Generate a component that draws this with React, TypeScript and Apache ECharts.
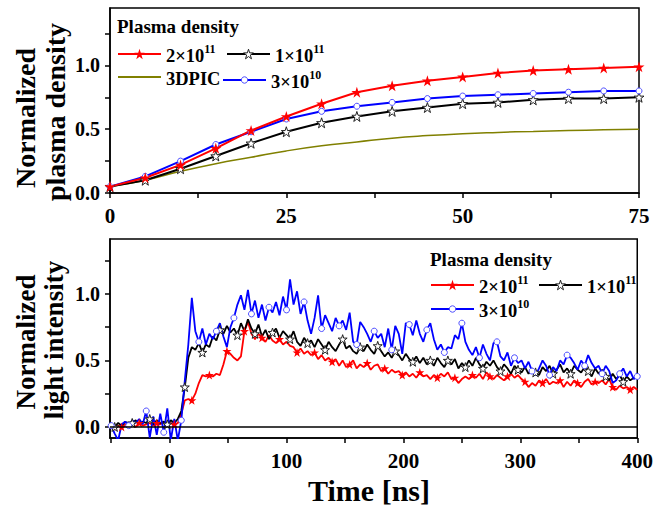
import React, { useEffect, useRef } from "react";
import * as echarts from "echarts";

// ---------- Top panel: normalized plasma density vs time ----------
const densityTime = [0, 5, 10, 15, 20, 25, 30, 35, 40, 45, 50, 55, 60, 65, 70, 75];
const density2e11 = [0.05, 0.12, 0.22, 0.35, 0.49, 0.6, 0.7, 0.79, 0.84, 0.88, 0.91, 0.94, 0.96, 0.97, 0.98, 0.99];
const density1e11 = [0.05, 0.1, 0.19, 0.29, 0.39, 0.48, 0.55, 0.6, 0.64, 0.67, 0.7, 0.71, 0.73, 0.74, 0.74, 0.75];
const density3e10 = [0.05, 0.13, 0.25, 0.38, 0.48, 0.58, 0.64, 0.68, 0.71, 0.74, 0.76, 0.77, 0.78, 0.79, 0.8, 0.8];
const density3DPIC = [0.05, 0.1, 0.17, 0.23, 0.28, 0.33, 0.37, 0.4, 0.43, 0.45, 0.465, 0.475, 0.483, 0.49, 0.495, 0.5];

// ---------- Bottom panel: normalized light intensity vs time ----------
const lightStart = -50;
const lightStep = 3;
const light2e11 = [
  0.0, -0.02, 0.01, 0.0, 0.02, 0.01, 0.02, 0.0, 0.03, 0.01,
  0.02, 0.03, 0.01, 0.03, 0.02, 0.04, 0.01, 0.03, 0.02, 0.03,
  0.1, 0.2, 0.21, 0.2, 0.25, 0.33, 0.39, 0.38, 0.39, 0.38,
  0.4, 0.39, 0.47, 0.57, 0.55, 0.52, 0.5, 0.53, 0.72, 0.79,
  0.7, 0.66, 0.7, 0.67, 0.64, 0.69, 0.65, 0.63, 0.66, 0.62,
  0.64, 0.61, 0.6, 0.56, 0.59, 0.55, 0.57, 0.54, 0.56, 0.51,
  0.54, 0.5, 0.52, 0.49, 0.51, 0.46, 0.5, 0.45, 0.47, 0.5,
  0.44, 0.47, 0.45, 0.48, 0.43, 0.46, 0.47, 0.42, 0.44, 0.4,
  0.43, 0.41, 0.42, 0.39, 0.41, 0.38, 0.4, 0.37, 0.41, 0.38,
  0.39, 0.36, 0.39, 0.37, 0.4, 0.38, 0.41, 0.36, 0.37, 0.33,
  0.36, 0.38, 0.36, 0.39, 0.37, 0.4, 0.36, 0.41, 0.38, 0.36,
  0.39, 0.37, 0.35, 0.38, 0.4, 0.37, 0.39, 0.36, 0.34, 0.3,
  0.33, 0.31, 0.35, 0.33, 0.36, 0.32, 0.34, 0.33, 0.35, 0.3,
  0.34, 0.31, 0.35, 0.33, 0.3, 0.34, 0.36, 0.32, 0.34, 0.33,
  0.35, 0.32, 0.36, 0.3, 0.28, 0.31, 0.29, 0.3, 0.28, 0.3,
  0.28,
];
const light1e11 = [
  0.02, 0.0, 0.03, 0.01, 0.04, 0.02, 0.03, 0.05, 0.02, 0.04,
  0.03, 0.06, 0.02, 0.05, 0.03, 0.04, 0.02, 0.05, 0.03, 0.06,
  0.12, 0.3, 0.52, 0.6, 0.58, 0.63, 0.56, 0.62, 0.6, 0.68,
  0.65, 0.73, 0.7, 0.76, 0.71, 0.74, 0.69, 0.78, 0.72, 0.81,
  0.74, 0.7, 0.77, 0.68, 0.73, 0.66, 0.71, 0.74, 0.67, 0.72,
  0.69, 0.66, 0.72, 0.64, 0.61, 0.67, 0.63, 0.65, 0.6, 0.66,
  0.62, 0.58, 0.64, 0.6, 0.57, 0.62, 0.66, 0.59, 0.61, 0.57,
  0.55, 0.6, 0.57, 0.62, 0.58, 0.55, 0.61, 0.57, 0.53, 0.56,
  0.52, 0.57, 0.54, 0.5, 0.55, 0.51, 0.49, 0.53, 0.48, 0.52,
  0.47, 0.5, 0.46, 0.52, 0.48, 0.45, 0.5, 0.47, 0.51, 0.44,
  0.48, 0.45, 0.5, 0.46, 0.52, 0.47, 0.44, 0.49, 0.46, 0.5,
  0.45, 0.42, 0.47, 0.44, 0.4, 0.46, 0.43, 0.41, 0.45, 0.4,
  0.44, 0.41, 0.39, 0.45, 0.42, 0.46, 0.4, 0.43, 0.47, 0.41,
  0.44, 0.4, 0.46, 0.43, 0.41, 0.45, 0.42, 0.38, 0.44, 0.4,
  0.43, 0.38, 0.35, 0.4, 0.36, 0.39, 0.34, 0.38, 0.35, 0.37,
  0.37,
];
const light3e10 = [
  0.01, -0.05, -0.1, 0.02, 0.04, 0.01, 0.05, 0.03, 0.06, 0.02,
  0.12, -0.08, 0.08, -0.06, 0.1, -0.04, 0.14, -0.1, 0.06, -0.1,
  0.05, 0.35, 0.62, 0.97, 0.72, 0.64, 0.74, 0.62, 0.7, 0.66,
  0.72, 0.78, 0.68, 0.6, 0.75, 0.82, 0.92, 0.99, 0.88, 1.03,
  0.85, 0.95, 0.82, 0.92, 0.8, 0.9, 0.86, 0.94, 0.84, 0.98,
  0.88, 1.11, 0.92, 1.02, 0.85, 0.94, 0.8, 0.7, 0.82, 0.99,
  0.74, 0.84, 0.78, 0.72, 0.82, 0.76, 0.8, 0.73, 0.86, 0.64,
  0.62, 0.79, 0.75, 0.7, 0.64, 0.72, 0.67, 0.7, 0.6, 0.74,
  0.58, 0.76, 0.7, 0.55, 0.78, 0.77, 0.69, 0.8, 0.7, 0.64,
  0.73, 0.78, 0.66, 0.58, 0.62, 0.56, 0.6, 0.59, 0.69, 0.66,
  0.78, 0.64, 0.58, 0.54, 0.6, 0.52, 0.62, 0.55, 0.5, 0.63,
  0.64, 0.53, 0.5, 0.56, 0.46, 0.52, 0.48, 0.5, 0.44, 0.49,
  0.42, 0.39, 0.44, 0.5, 0.46, 0.39, 0.45, 0.42, 0.5, 0.47,
  0.54, 0.52, 0.48, 0.43, 0.5, 0.46, 0.54, 0.48, 0.44, 0.46,
  0.4, 0.46, 0.42, 0.33, 0.35, 0.4, 0.44, 0.38, 0.42, 0.36,
  0.38,
];
const lightTime = light2e11.map((_, i) => lightStart + i * lightStep);

const topXTicks = [0, 12.5, 25, 37.5, 50, 62.5, 75];
const topXLabels = [0, 25, 50, 75];
const topYTicks = [0, 0.25, 0.5, 0.75, 1.0, 1.25];
const topYLabels = [0, 0.5, 1.0];
const botXTicks = [-50, 0, 50, 100, 150, 200, 250, 300, 350, 400];
const botXLabels = [0, 100, 200, 300, 400];
const botYTicks = [0, 0.25, 0.5, 0.75, 1.0, 1.25];
const botYLabels = [0, 0.5, 1.0];

const FONT = '"Liberation Serif", "Times New Roman", serif';
const STAR =
  "path://M50,0 L61.8,35.1 L98.9,35.1 L69,56.7 L80.3,91.9 L50,70.2 L19.7,91.9 L31,56.7 L1.1,35.1 L38.2,35.1 Z";
const RED = "#ff0000";
const BLACK = "#000000";
const BLUE = "#0000ff";
const OLIVE = "#808000";

function pairs(xs: number[], ys: number[]) {
  return ys.map((y, i) => [xs[i], y]);
}
function marked(ys: number[], offset: number, every: number) {
  return ys.map((y, i) =>
    i % every === offset ? [lightTime[i], y] : { value: [lightTime[i], y], symbol: "none" }
  );
}

const legendText = {
  fontFamily: FONT,
  color: "#000",
  rich: {
    b: { fontFamily: FONT, fontWeight: "bold", fontSize: 18.5, color: "#000", lineHeight: 22, verticalAlign: "bottom" },
    s: { fontFamily: FONT, fontWeight: "bold", fontSize: 12, color: "#000", lineHeight: 22, verticalAlign: "top" },
  },
};
function legendFormatter(name: string) {
  const n = name.split(":").pop() as string;
  const parts = n.split("^");
  return parts.length > 1 ? `{b|${parts[0]}}{s|${parts[1]}}` : `{b|${n}}`;
}
function legendAt(name: string, left: number, top: number, itemHeight: number, itemStyle: any) {
  return {
    data: [name],
    left,
    top,
    padding: 0,
    itemWidth: 43,
    itemHeight,
    selectedMode: false,
    formatter: legendFormatter,
    textStyle: legendText,
    itemStyle,
  };
}
const redMark = { color: RED, borderWidth: 0 };
const blackMark = { color: "#fff", borderColor: "#222", borderWidth: 1 };
const blueMark = { color: "#fff", borderColor: "#4d4dff", borderWidth: 1 };
const noMark = { opacity: 0 };

function valueAxis(gridIndex: number, min: number, max: number, ticks: number[], labels: number[], isX: boolean, fs: number, fmt: (v: number) => string) {
  return {
    type: "value",
    gridIndex,
    min,
    max,
    splitLine: { show: false },
    axisLine: { show: true, onZero: false, lineStyle: { color: "#000", width: 1.5 } },
    axisTick: { show: true, inside: false, length: 5, customValues: ticks, lineStyle: { color: "#000", width: 1.5 } },
    axisLabel: {
      customValues: labels,
      formatter: fmt,
      fontFamily: FONT,
      fontWeight: "bold",
      fontSize: fs,
      color: "#000",
      margin: isX ? 12 : 10,
    },
  };
}

function vText(text: string, x: number, y: number, size: number) {
  return {
    type: "text",
    x,
    y,
    rotation: Math.PI / 2,
    style: { text, font: `bold ${size}px ${FONT}`, fill: "#000", align: "center", verticalAlign: "middle" },
  };
}

export default function App() {
  const ref = useRef<HTMLDivElement>(null);
  useEffect(() => {
    if (!ref.current) return;
    const chart = echarts.init(ref.current, undefined, { renderer: "svg" });
    const option: any = {
      animation: false,
      backgroundColor: "#fff",
      grid: [
        { left: 110, top: 8, width: 529, height: 185, show: true, borderColor: "#000", borderWidth: 1.5, backgroundColor: "transparent" },
        { left: 110, top: 239, width: 529, height: 199, show: true, borderColor: "#000", borderWidth: 1.5, backgroundColor: "transparent" },
      ],
      xAxis: [
        valueAxis(0, 0, 75, topXTicks, topXLabels, true, 21, (v) => String(v)),
        valueAxis(1, -51, 400, botXTicks, botXLabels, true, 21, (v) => String(v)),
      ],
      yAxis: [
        valueAxis(0, 0, 1.45, topYTicks, topYLabels, false, 20, (v) => v.toFixed(1)),
        valueAxis(1, -0.083, 1.413, botYTicks, botYLabels, false, 20, (v) => v.toFixed(1)),
      ],
      legend: [
        legendAt("a:2×10^11", 117, 43, 13, redMark),
        legendAt("a:1×10^11", 226, 43, 12, blackMark),
        legendAt("a:3DPIC", 117, 69, 12, noMark),
        legendAt("a:3×10^10", 222, 69, 8, blueMark),
        legendAt("b:2×10^11", 430, 274, 13, redMark),
        legendAt("b:1×10^11", 538, 274, 12, blackMark),
        legendAt("b:3×10^10", 430, 298, 8, blueMark),
      ],
      graphic: [
        { type: "text", left: 117, top: 17, style: { text: "Plasma density", font: `bold 19px ${FONT}`, fill: "#000" } },
        { type: "text", left: 430, top: 250, style: { text: "Plasma density", font: `bold 19px ${FONT}`, fill: "#000" } },
        vText("Normalized", 25.5, 118, 28),
        vText("plasma density", 55.5, 112, 28),
        vText("Normalized", 25.5, 342, 27),
        vText("light intensity", 54, 340, 27),
        {
          type: "text",
          x: 369,
          y: 490,
          style: { text: "Time [ns]", font: `bold 30px ${FONT}`, fill: "#000", align: "center", verticalAlign: "middle" },
        },
      ],
      series: [
        {
          name: "a:3DPIC",
          type: "line",
          xAxisIndex: 0,
          yAxisIndex: 0,
          data: pairs(densityTime, density3DPIC),
          symbol: "none",
          smooth: true,
          lineStyle: { color: OLIVE, width: 1.5 },
          itemStyle: { color: OLIVE },
        },
        {
          name: "a:1×10^11",
          type: "line",
          xAxisIndex: 0,
          yAxisIndex: 0,
          data: pairs(densityTime, density1e11),
          symbol: STAR,
          symbolSize: 10,
          showAllSymbol: true,
          lineStyle: { color: BLACK, width: 2 },
          itemStyle: { color: "#fff", borderColor: "#222", borderWidth: 1 },
        },
        {
          name: "a:3×10^10",
          type: "line",
          xAxisIndex: 0,
          yAxisIndex: 0,
          data: pairs(densityTime, density3e10),
          symbol: "circle",
          symbolSize: 6,
          showAllSymbol: true,
          lineStyle: { color: BLUE, width: 2 },
          itemStyle: { color: "#fff", borderColor: "#4d4dff", borderWidth: 1 },
        },
        {
          name: "a:2×10^11",
          type: "line",
          xAxisIndex: 0,
          yAxisIndex: 0,
          data: pairs(densityTime, density2e11),
          symbol: STAR,
          symbolSize: 11,
          showAllSymbol: true,
          lineStyle: { color: RED, width: 2 },
          itemStyle: { color: RED },
        },
        {
          name: "b:2×10^11",
          type: "line",
          xAxisIndex: 1,
          yAxisIndex: 1,
          data: marked(light2e11, 3, 5),
          symbol: STAR,
          symbolSize: 9,
          showAllSymbol: true,
          lineStyle: { color: RED, width: 1.8 },
          itemStyle: { color: RED },
          markLine: {
            silent: true,
            symbol: "none",
            label: { show: false },
            lineStyle: { color: "#000", width: 1.5, type: "solid" },
            data: [{ yAxis: 0 }],
          },
        },
        {
          name: "b:1×10^11",
          type: "line",
          xAxisIndex: 1,
          yAxisIndex: 1,
          data: marked(light1e11, 1, 5),
          symbol: STAR,
          symbolSize: 9,
          showAllSymbol: true,
          lineStyle: { color: BLACK, width: 1.8 },
          itemStyle: { color: "#fff", borderColor: "#222", borderWidth: 1 },
        },
        {
          name: "b:3×10^10",
          type: "line",
          xAxisIndex: 1,
          yAxisIndex: 1,
          data: marked(light3e10, 0, 5),
          symbol: "circle",
          symbolSize: 6,
          showAllSymbol: true,
          lineStyle: { color: BLUE, width: 1.8 },
          itemStyle: { color: "#fff", borderColor: "#4d4dff", borderWidth: 1 },
        },
      ],
    };
    chart.setOption(option);
    return () => chart.dispose();
  }, []);
  return <div ref={ref} style={{ position: "fixed", left: 0, top: 0, width: 656, height: 508 }} />;
}
